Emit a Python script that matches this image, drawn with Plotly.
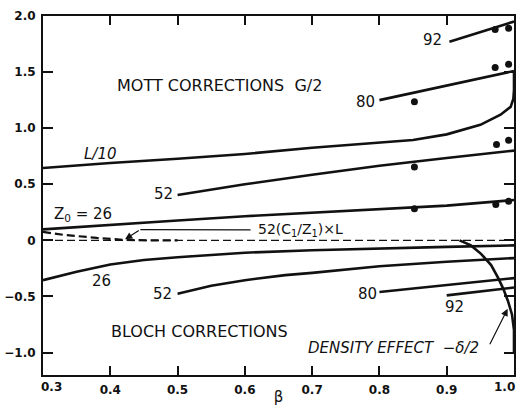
import plotly.graph_objects as go

# ---------------- data ----------------
# Mott corrections G/2
mott92_beta = [0.904, 1.0]
mott92_val = [1.77, 1.95]
mott80_beta = [0.80, 0.90, 1.0]
mott80_val = [1.25, 1.38, 1.51]
l10_beta = [0.3, 0.4, 0.5, 0.6, 0.7, 0.8, 0.85, 0.9, 0.95, 0.98, 0.995, 0.999, 1.0, 1.0]
l10_val = [0.645, 0.69, 0.728, 0.77, 0.825, 0.87, 0.895, 0.945, 1.03, 1.12, 1.19, 1.26, 1.34, 1.51]
mott52_beta = [0.50, 0.6, 0.7, 0.8, 0.9, 1.0]
mott52_val = [0.405, 0.50, 0.585, 0.665, 0.735, 0.80]
mott26_beta = [0.3, 0.4, 0.5, 0.6, 0.7, 0.8, 0.9, 1.0]
mott26_val = [0.098, 0.14, 0.177, 0.215, 0.247, 0.277, 0.31, 0.36]
# 52(C1/Z1) x L  (dashed)
c1_beta = [0.3, 0.33, 0.38, 0.42, 0.46, 0.5]
c1_val = [0.075, 0.05, 0.022, 0.005, 0.0, 0.0]
# zero reference
zero_beta = [0.3, 1.0]
zero_val = [0.0, 0.0]
# Bloch corrections
bloch26_beta = [0.3, 0.35, 0.4, 0.45, 0.5, 0.6, 0.7, 0.8, 0.9, 1.0]
bloch26_val = [-0.355, -0.28, -0.215, -0.175, -0.15, -0.11, -0.088, -0.07, -0.058, -0.045]
bloch52_beta = [0.5, 0.55, 0.6, 0.66, 0.7, 0.8, 0.9, 1.0]
bloch52_val = [-0.475, -0.405, -0.355, -0.31, -0.29, -0.23, -0.19, -0.158]
bloch80_beta = [0.80, 1.0]
bloch80_val = [-0.46, -0.336]
bloch92_beta = [0.90, 1.0]
bloch92_val = [-0.49, -0.42]
# Density effect -delta/2
dens_beta = [0.919, 0.936, 0.951, 0.966, 0.976, 0.984, 0.991, 0.997, 1.0, 1.0]
dens_val = [0.0, -0.045, -0.12, -0.22, -0.33, -0.43, -0.54, -0.66, -0.80, -1.0]
# measured points
pts_beta = [0.972, 0.992, 0.852, 0.972, 0.992, 0.852, 0.974, 0.992, 0.852, 0.973, 0.992]
pts_val = [1.88, 1.89, 1.235, 1.54, 1.57, 0.655, 0.854, 0.893, 0.283, 0.319, 0.348]

x_ticks = [0.3, 0.4, 0.5, 0.6, 0.7, 0.8, 0.9, 1.0]
x_ticklabels = ["0.3", "0.4", "0.5", "0.6", "0.7", "0.8", "0.9", "1.0"]
y_ticks = [-1.0, -0.5, 0.0, 0.5, 1.0, 1.5, 2.0]
y_ticklabels = ["\u22121.0", "\u22120.5", "0", "0.5", "1.0", "1.5", "2.0"]

INK = "#111111"
FONT = "DejaVu Sans"
TICKFONT = dict(family=FONT, size=12, color=INK, weight="bold")

fig = go.Figure()

def solid(xs, ys):
    fig.add_trace(go.Scatter(x=xs, y=ys, mode="lines",
                             line=dict(color=INK, width=2.6),
                             hoverinfo="skip", showlegend=False))

for xs, ys in [(mott92_beta, mott92_val), (mott80_beta, mott80_val),
               (l10_beta, l10_val), (mott52_beta, mott52_val),
               (mott26_beta, mott26_val), (bloch26_beta, bloch26_val),
               (bloch52_beta, bloch52_val), (bloch80_beta, bloch80_val),
               (bloch92_beta, bloch92_val), (dens_beta, dens_val)]:
    solid(xs, ys)

fig.add_trace(go.Scatter(x=zero_beta, y=zero_val, mode="lines",
                         line=dict(color=INK, width=1.2, dash="8px,4px"),
                         hoverinfo="skip", showlegend=False))
fig.add_trace(go.Scatter(x=c1_beta, y=c1_val, mode="lines",
                         line=dict(color=INK, width=2.2, dash="8px,4px"),
                         hoverinfo="skip", showlegend=False))
fig.add_trace(go.Scatter(x=pts_beta, y=pts_val, mode="markers",
                         marker=dict(color=INK, size=7),
                         cliponaxis=False,
                         hoverinfo="skip", showlegend=False))

def label(text, x, y, size=15, italic=False, xanchor="center"):
    fig.add_annotation(x=x, y=y, xref="x", yref="y", text=text, showarrow=False,
                       xanchor=xanchor, yanchor="middle",
                       font=dict(family=FONT, size=size, color=INK,
                                 style="italic" if italic else "normal"))

label("MOTT CORRECTIONS  G/2", 0.5623, 1.384, size=16)
label("BLOCH CORRECTIONS", 0.5325, -0.8125, size=16)
label("DENSITY EFFECT  \u2212\u03b4/2", 0.8216, -0.955, size=15, italic=True)
label("92", 0.879, 1.786)
label("80", 0.780, 1.235)
label("L/10", 0.385, 0.774, italic=True)
label("52", 0.479, 0.417)
label("Z<sub>0</sub> = 26", 0.36, 0.228)
label("52(C<sub>1</sub>/Z<sub>1</sub>)\u00d7L", 0.616, 0.089, size=14, xanchor="left")
label("26", 0.3875, -0.36)
label("52", 0.477, -0.482)
label("80", 0.7824, -0.476)
label("92", 0.9115, -0.595)

# leader for 52(C1/Z1)xL
fig.add_shape(type="line", x0=0.4446, y0=0.096, x1=0.6085, y1=0.094,
              xref="x", yref="y", line=dict(color=INK, width=1.2))
fig.add_annotation(x=0.422, y=0.009, ax=0.4446, ay=0.096, xref="x", yref="y",
                   axref="x", ayref="y", text="", showarrow=True,
                   arrowhead=2, arrowsize=1.2, arrowwidth=1.2, arrowcolor=INK)
# arrow for -delta/2
fig.add_annotation(x=0.9905, y=-0.61, ax=0.963, ay=-0.94, xref="x", yref="y",
                   axref="x", ayref="y", text="", showarrow=True,
                   arrowhead=2, arrowsize=1.2, arrowwidth=1.2, arrowcolor=INK)

# end tick labels are kept inside the figure (as in the original)
shown_x_labels = [""] + x_ticklabels[1:-1] + [""]
fig.add_annotation(x=x_ticks[0], y=-0.034, xref="x", yref="paper",
                   text=x_ticklabels[0], showarrow=False, xanchor="left",
                   yanchor="middle", xshift=-4, font=TICKFONT)
fig.add_annotation(x=x_ticks[-1], y=-0.034, xref="x", yref="paper",
                   text=x_ticklabels[-1], showarrow=False, xanchor="right",
                   yanchor="middle", xshift=3, font=TICKFONT)

axis_common = dict(showline=True, linecolor=INK, linewidth=2, mirror="ticks",
                   ticks="inside", tickcolor=INK, tickwidth=1.5, showgrid=False,
                   zeroline=False, automargin=False, tickfont=TICKFONT)

fig.update_xaxes(range=[0.3, 1.0], tickvals=x_ticks, ticktext=shown_x_labels,
                 ticklen=9, ticklabelstandoff=3,
                 title=dict(text="\u03b2", font=dict(family=FONT, size=15, color=INK),
                            standoff=5),
                 **axis_common)
fig.update_yaxes(range=[-1.2, 2.0], tickvals=y_ticks, ticktext=y_ticklabels,
                 ticklen=10, ticklabelstandoff=3, **axis_common)

fig.update_layout(width=517, height=406,
                  margin=dict(l=43, r=3, t=16, b=31),
                  paper_bgcolor="white", plot_bgcolor="white",
                  font=dict(family=FONT, color=INK))

# remove the page's default body margin so the figure fills the window exactly
fig.write_html("out.html",
               config={"displayModeBar": False},
               post_script="document.body.style.margin='0';"
                           "document.body.style.overflow='hidden';")
